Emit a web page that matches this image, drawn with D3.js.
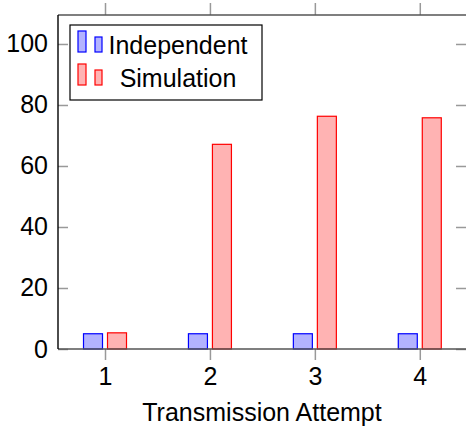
<!DOCTYPE html>
<html>
<head>
<meta charset="utf-8">
<script src="https://cdn.jsdelivr.net/npm/d3@7"></script>
<style>
  body { margin: 0; background: #fff; }
  text { font-family: "Liberation Sans", Arial, Helvetica, sans-serif; fill: #000; }
</style>
</head>
<body>
<svg id="chart"></svg>
<script>
var width = 466,
    height = 427;

// data
const attempts = [1, 2, 3, 4];
const independent = [5, 5, 5, 5];
const simulation = [5.3, 67.1, 76.3, 75.8];
const yTicks = [0, 20, 40, 60, 80, 100];
const seriesNames = ["Independent", "Simulation"];

const series = [
    { name: seriesNames[0], values: independent, fill: "#b3b3ff", stroke: "#0000ff", shift: -12 },
    { name: seriesNames[1], values: simulation, fill: "#ffb3b3", stroke: "#ff0000", shift: 12 }
];

const plotLeft = 58, plotRight = 467, plotTop = 15, plotBottom = 349;
const barW = 19;

const svg = d3.select("#chart")
    .attr("width", width)
    .attr("height", height);

var x = d3.scaleLinear()
    .domain([0.552, 4.45])
    .range([plotLeft, plotRight]);

var y = d3.scaleLinear()
    .domain([0, 109.5])
    .range([plotBottom, plotTop]);

// bars
series.forEach((s) => {
    svg.append("g")
        .selectAll("rect")
        .data(s.values)
        .enter().append("rect")
        .attr("x", (d, i) => x(attempts[i]) + s.shift - barW / 2)
        .attr("y", (d) => y(d))
        .attr("width", barW)
        .attr("height", (d) => y(0) - y(d))
        .attr("fill", s.fill)
        .attr("stroke", s.stroke)
        .attr("stroke-width", 1.2);
});

// axes: ticks only from d3, frame drawn after
var xBottom = d3.axisBottom(x).tickValues(attempts).tickSize(11).tickPadding(7).tickFormat(d3.format("d"));
var xTop = d3.axisTop(x).tickValues(attempts).tickSize(12).tickFormat("");
var yLeft = d3.axisRight(y).tickValues(yTicks).tickSize(10).tickFormat("");
var yRight = d3.axisLeft(y).tickValues(yTicks).tickSize(10).tickFormat("");
var yLabels = d3.axisLeft(y).tickValues(yTicks).tickSize(0).tickPadding(10);

function styleAxis(g) {
    g.select(".domain").remove();
    g.selectAll(".tick line").attr("stroke", "#999").attr("stroke-width", 1.5);
    g.selectAll(".tick text").attr("font-size", 25).attr("fill", "#000");
}

svg.append("g").attr("transform", "translate(0," + plotBottom + ")").call(xBottom).call(styleAxis);
svg.append("g").attr("transform", "translate(0," + plotTop + ")").call(xTop).call(styleAxis);
svg.append("g").attr("transform", "translate(" + plotLeft + ",0)").call(yLeft).call(styleAxis);
svg.append("g").attr("transform", "translate(" + width + ",0)").call(yRight).call(styleAxis);
svg.append("g").attr("transform", "translate(" + plotLeft + ",0)").call(yLabels).call(styleAxis);

// frame
svg.append("line").attr("x1", plotLeft).attr("x2", width).attr("y1", plotTop).attr("y2", plotTop)
    .attr("stroke", "#555").attr("stroke-width", 1.6);
svg.append("line").attr("x1", plotLeft).attr("x2", width).attr("y1", plotBottom).attr("y2", plotBottom)
    .attr("stroke", "#555").attr("stroke-width", 1.6);
svg.append("line").attr("x1", plotLeft).attr("x2", plotLeft).attr("y1", plotTop).attr("y2", plotBottom)
    .attr("stroke", "#000").attr("stroke-width", 1.4);

// x label
svg.append("text")
    .attr("x", 262)
    .attr("y", 421)
    .attr("text-anchor", "middle")
    .attr("font-size", 25)
    .text("Transmission Attempt");

// legend
const legend = svg.append("g");
legend.append("rect")
    .attr("x", 70).attr("y", 25)
    .attr("width", 192).attr("height", 75)
    .attr("fill", "#fff").attr("stroke", "#000").attr("stroke-width", 1.2);

series.forEach((s, i) => {
    const base = 52 + i * 33;
    legend.append("rect").attr("x", 78).attr("y", base - 21).attr("width", 8).attr("height", 21)
        .attr("fill", s.fill).attr("stroke", s.stroke).attr("stroke-width", 1.2);
    legend.append("rect").attr("x", 95).attr("y", base - 15).attr("width", 7).attr("height", 15)
        .attr("fill", s.fill).attr("stroke", s.stroke).attr("stroke-width", 1.2);
    legend.append("text")
        .attr("x", 178).attr("y", base + 2)
        .attr("text-anchor", "middle")
        .attr("font-size", 25)
        .text(s.name);
});
</script>
</body>
</html>
